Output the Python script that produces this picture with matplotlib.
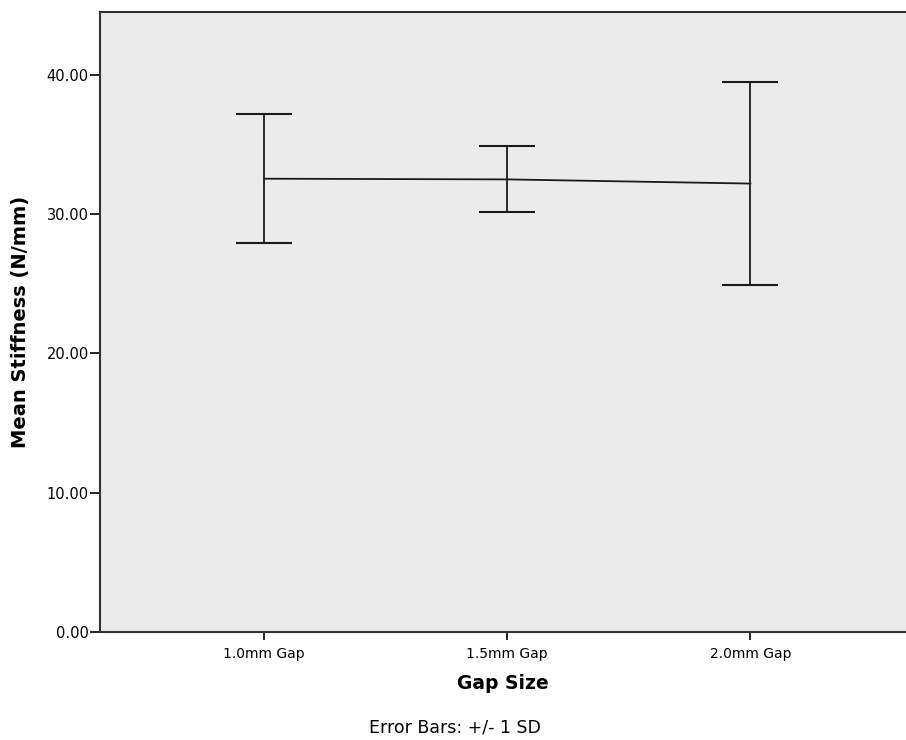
import matplotlib.pyplot as plt

# data
groups = ['1.0mm Gap', '1.5mm Gap', '2.0mm Gap']
means = [32.55, 32.5, 32.2]
upper = [37.2, 34.9, 39.5]
lower = [27.95, 30.15, 24.9]

plt.rcParams['font.family'] = ['DejaVu Sans']

fig = plt.figure(figsize=(9.06, 7.4), dpi=100)
ax = fig.add_axes([100/906, 108/740, 806/906, 620/740])
ax.set_facecolor('#ebebeb')

x = list(range(len(groups)))
err = [[m - l for m, l in zip(means, lower)], [u - m for m, u in zip(means, upper)]]
ax.errorbar(x, means, yerr=err, color='#1a1a1a', lw=1.3, elinewidth=1.3,
            capsize=20.5, capthick=1.5)

ax.set_xlim(-0.675, 2.64)
ax.set_ylim(0, 44.52)
ax.set_yticks([0, 10, 20, 30, 40])
ax.set_yticklabels(['%.2f' % v for v in [0, 10, 20, 30, 40]])
ax.set_xticks(x)
ax.set_xticklabels(groups)
ax.tick_params(axis='y', direction='out', length=7, width=1.2, labelsize=10.5, pad=1)
ax.tick_params(axis='x', direction='out', length=6, width=1.2, labelsize=10, pad=5)

for s in ['left', 'bottom', 'top']:
    ax.spines[s].set_linewidth(1.5)
    ax.spines[s].set_color('#333333')
ax.spines['right'].set_visible(False)

ax.set_xlabel('Gap Size', fontsize=13.5, fontweight='bold', labelpad=9)
ax.set_ylabel('Mean Stiffness (N/mm)', fontsize=14, fontweight='bold', labelpad=12)

fig.text(455/906, 1 - 727/740, 'Error Bars: +/- 1 SD', ha='center', va='center', fontsize=12.5)

fig.savefig('out.png', dpi=100)
